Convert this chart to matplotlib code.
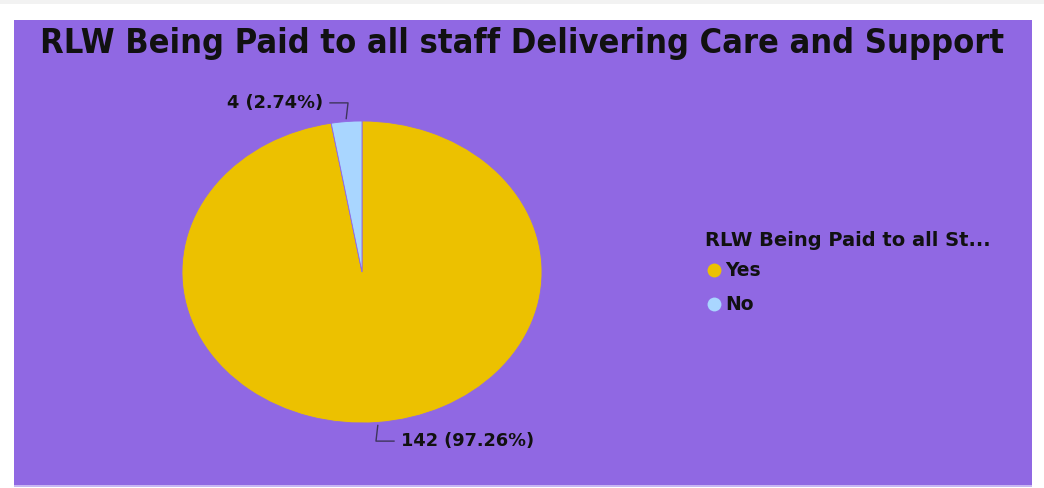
import numpy as np
import matplotlib.pyplot as plt
from matplotlib.patches import Rectangle

# data
labels = ["Yes", "No"]
counts = [142, 4]
colors = ["#ECC100", "#A9D6FF"]
title = "RLW Being Paid to all staff Delivering Care and Support"
legend_title = "RLW Being Paid to all St..."

W, H = 1044, 488
fig = plt.figure(figsize=(W / 100, H / 100), dpi=100)
fig.patch.set_facecolor("white")

# background panel in pixel coordinates
bg = fig.add_axes([0, 0, 1, 1])
bg.set_xlim(0, W)
bg.set_ylim(H, 0)
bg.axis("off")
bg.add_patch(Rectangle((0, 0), W, 4, color="#f2f2f2", lw=0))
bg.add_patch(Rectangle((14, 20), 1018, 465, color="#9068E3", lw=0))
bg.add_patch(Rectangle((14, 485), 1018, 2, color="#c8b6f2", lw=0))

bg.text(522, 43, title, ha="center", va="center", fontsize=24.6, fontweight="bold",
        family="DejaVu Sans", fontstretch="condensed", color="#111111")

# pie (elliptical, like the original)
cx, cy, rx, ry = 362, 272, 180, 151
ax = fig.add_axes([(cx - rx) / W, (H - cy - ry) / H, 2 * rx / W, 2 * ry / H])
wedges, _ = ax.pie(counts, colors=colors, startangle=90, counterclock=False,
                   wedgeprops=dict(linewidth=0.6, edgecolor="#9068E3"))
ax.set_aspect("auto")
ax.set_xlim(-1, 1)
ax.set_ylim(-1, 1)
ax.axis("off")

total = sum(counts)
for w, c in zip(wedges, counts):
    ang = np.deg2rad((w.theta1 + w.theta2) / 2)
    x0, y0 = 1.02 * np.cos(ang), 1.02 * np.sin(ang)
    sgn = 1 if y0 > 0 else -1
    x1, y1 = x0 - 0.01 * np.sign(np.cos(ang)), sgn * 1.12
    side = -1 if np.cos(ang) < 0 else 1
    x2 = x1 + side * 0.1
    ax.plot([x0, x1, x2], [y0, y1, y1], color="#3e355c", lw=1, clip_on=False)
    txt = "%d (%.2f%%)" % (c, 100.0 * c / total)
    ax.text(x2 + side * 0.04, y1, txt, ha="left" if side > 0 else "right", va="center",
            fontsize=12.8, fontweight="bold", color="#111111", clip_on=False)

# legend
bg.text(705, 240, legend_title, ha="left", va="center", fontsize=14,
        fontweight="bold", color="#111111")
for i, (lab, col) in enumerate(zip(labels, colors)):
    yy = 270 + i * 34
    bg.scatter([714], [yy], s=100, color=col, lw=0)
    bg.text(725, yy, lab, ha="left", va="center", fontsize=13.5,
            fontweight="bold", color="#111111")

plt.savefig("out.png", dpi=100)
